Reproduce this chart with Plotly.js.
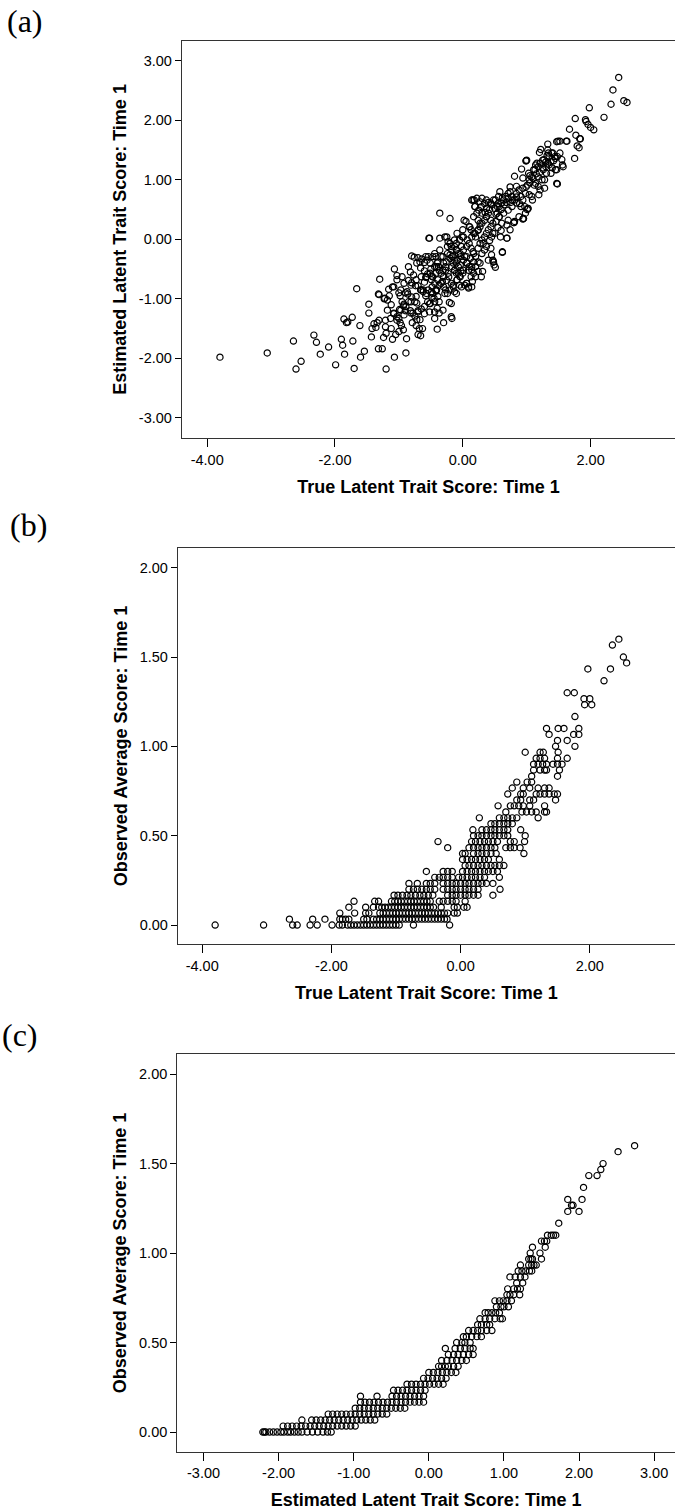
<!DOCTYPE html>
<html>
<head>
<meta charset="utf-8">
<script src="https://cdn.plot.ly/plotly-3.0.1.min.js"></script>
<style>html,body{margin:0;padding:0;background:#fff;}#chart{width:675px;height:1511px;}</style>
</head>
<body>
<div id="chart"></div>
<script>
// Panel (a): [true latent trait, estimated latent trait]
const panelA = [
[-3.80,-1.98],[-3.06,-1.91],[-2.65,-1.71],[-2.61,-2.18],[-2.53,-2.05],[-2.33,-1.61],[-2.29,-1.73],[-2.23,-1.93],[-2.10,-1.81],[-1.99,-2.11],[-1.90,-1.68],[-1.88,-1.78],[-1.85,-1.93],[-1.86,-1.34],[-1.82,-1.40],[-1.80,-1.39],[-1.73,-1.31],[-1.72,-1.71],[-1.70,-2.17],[-1.66,-0.83],[-1.61,-1.45],[-1.60,-1.98],[-1.54,-1.88],[-1.47,-1.09],[-1.47,-1.24],[-1.43,-1.64],[-1.42,-1.50],[-1.39,-1.42],[-1.36,-1.48],[-1.34,-1.40],[-1.31,-1.36],[-1.31,-0.93],[-1.30,-0.67],[-1.32,-1.84],[-1.26,-1.84],[-1.24,-1.65],[-1.21,-1.36],[-1.21,-1.47],[-1.20,-1.58],[-1.20,-2.18],[-1.23,-1.00],[-1.18,-1.02],[-1.07,-1.98],[-1.07,-0.50],[-1.03,-0.61],
[-1.32,-0.92],[-1.22,-0.99],[-1.16,-0.84],[-1.08,-0.80],[-1.03,-0.68],[-0.95,-0.63],[-0.92,-0.74],[-0.97,-0.85],[-0.87,-0.88],[-0.81,-0.77],[-0.73,-0.68],[-0.65,-0.63],[-0.57,-0.63],[-0.49,-0.68],[-0.44,-0.74],[-0.39,-0.68],[-0.34,-0.74],[-0.42,-0.85],[-0.49,-0.88],[-0.57,-0.91],[-0.65,-0.85],[-0.73,-0.96],[-0.81,-1.05],[-0.89,-1.13],[-0.97,-1.19],[-1.08,-1.24],[-1.18,-1.19],[-1.13,-1.33],[-1.03,-1.30],[-0.92,-1.27],[-0.81,-1.24],[-0.70,-1.22],[-0.60,-1.13],[-0.52,-1.08],[-0.44,-1.05],[-0.39,-0.96],[-0.28,-0.91],[-0.20,-0.85],[-0.15,-0.77],[-0.09,-0.68],[-0.04,-0.63],[0.01,-0.52],[0.09,-0.52],[0.14,-0.46],[0.20,-0.63],[0.14,-0.80],[0.06,-0.74],[-0.18,-1.08],[-0.31,-1.19],[-0.44,-1.22],[-0.18,-1.30],[-0.37,-1.05],
[-0.28,0.04],[-0.23,-0.04],[-0.18,-0.12],[-0.10,-0.18],[-0.04,-0.24],[0.01,-0.18],[0.06,-0.12],[0.14,0.04],[0.19,0.10],[0.24,0.15],[0.24,0.32],[0.19,0.55],[0.14,0.66],[0.22,0.69],
[-0.31,-0.29],[-0.26,-0.38],[-0.20,-0.32],[-0.15,-0.40],[-0.09,-0.35],[-0.04,-0.43],[0.01,-0.35],[0.06,-0.40],[0.12,-0.32],[0.17,-0.38],[-0.31,-0.52],[-0.23,-0.57],[-0.13,-0.52],[-0.07,-0.57],[-0.41,-0.46],[-0.39,-0.38],
[-1.00,-0.90],[-0.98,-0.95],[-0.95,-1.05],[-0.93,-1.12],[-0.99,-1.18],[-1.00,-1.33],[-0.98,-1.40],[-0.96,-1.45],[-0.93,-1.52],[-0.88,-1.67],[-0.89,-1.91],[-0.80,-0.28],[-0.76,-0.30],[-0.70,-0.31],[-0.64,-0.33],[-0.58,-0.29],[-0.60,-0.39],[-0.67,-0.38],[-0.72,-0.40],[-0.85,-0.46],[-0.82,-0.55],[-0.77,-0.60],[-0.85,-0.69],[-0.80,-0.73],[-0.74,-0.78],[-0.70,-0.78],[-0.60,-0.72],[-0.58,-0.64],[-0.55,-0.58],[-0.60,-0.53],[-0.66,-0.48],[-0.50,-0.50],[-0.49,-0.62],[-0.48,-0.80],[-0.48,-0.98],[-0.90,-0.90],[-0.86,-0.92],[-0.80,-0.97],[-0.75,-1.05],[-0.72,-1.07],[-0.85,-1.05],[-0.92,-1.09],[-0.90,-1.20],[-0.82,-1.20],[-0.78,-1.24],[-0.70,-1.20],[-0.65,-1.17],[-0.60,-1.25],[-0.75,-1.29],[-0.72,-1.35],[-0.67,-1.35],[-0.79,-1.40],[-0.73,-1.45],[-0.68,-1.50],[-0.63,-1.50],[-0.70,-1.60],[-0.66,-1.62],[-0.52,-1.22],[-0.55,-1.05],[-0.58,-0.95],[-0.62,-0.88],[-0.66,-0.85],[-0.54,-0.85],[-1.03,-1.36],[-1.08,-1.25],[-1.12,-1.10],[-1.15,-0.95],[-1.10,-0.80],[-1.12,-1.50],[-1.05,-1.60],[-1.10,-1.68],[-1.00,-1.55],
[-0.44,-0.24],[-0.42,-0.29],[-0.40,-0.40],[-0.38,-0.46],[-0.44,-0.46],[-0.37,-0.52],[-0.34,-0.57],[-0.30,-0.63],[-0.32,-0.71],[-0.30,-0.80],[-0.27,-0.85],[-0.24,-0.91],[-0.37,-0.77],[-0.42,-0.87],[-0.47,-0.91],[-0.45,-0.99],[-0.51,-1.08],[-0.40,-1.16],[-0.37,-1.24],[-0.44,-1.33],[-0.30,-1.40],[-0.40,-1.51],[-0.21,-1.06],[-0.17,-1.33],[-0.24,-0.24],[-0.20,-0.26],[-0.17,-0.29],[-0.13,-0.35],[-0.10,-0.40],[-0.07,-0.46],[-0.03,-0.53],[0.00,-0.57],[-0.17,-0.46],[-0.13,-0.52],[-0.10,-0.57],[-0.09,-0.68],[-0.05,-0.77],[-0.02,-0.80],[-0.10,-0.91],[-0.13,-0.88],[-0.18,-0.74],[-0.22,-0.63],[-0.27,-0.52],[-0.30,-0.40],[-0.34,-0.29],[-0.24,-0.12],[-0.20,-0.07],[-0.13,-0.12],[-0.10,-0.18],[-0.07,-0.24],[-0.03,-0.29],[-0.02,-0.12],[-0.05,-0.01],[-0.09,0.10],[-0.13,-0.01],[-0.17,-0.18],[0.00,0.16],[-0.01,0.04],[-0.20,0.35],[-0.36,0.44],[-0.36,0.02],[-0.53,0.02],[-0.27,-0.46],[0.03,-0.77],[0.09,-0.80],[0.13,-0.63],[0.15,-0.71],[-0.47,-0.29],[-0.51,-0.40],[-0.54,-0.29],[-0.56,-0.35],[-0.42,-0.57],[-0.47,-0.63],
[0.02,0.32],[0.05,0.30],[0.10,0.21],[0.13,0.16],[0.17,0.10],[0.20,0.04],[0.24,0.16],[0.27,0.21],[0.30,0.27],[0.34,0.32],[0.37,0.38],[0.40,0.44],[0.44,0.32],[0.47,0.27],[0.17,0.38],[0.22,0.44],[0.25,0.49],[0.29,0.55],[0.18,0.66],[0.19,0.55],[0.27,0.63],[0.34,0.60],[0.37,0.52],[0.07,-0.01],[0.10,-0.07],[0.13,-0.15],[0.17,-0.24],[0.20,-0.29],[0.24,-0.15],[0.27,-0.07],[0.30,-0.01],[0.34,0.04],[0.37,0.10],[0.40,0.16],[0.44,0.21],[0.47,0.10],[0.30,-0.24],[0.34,-0.18],[0.37,-0.12],[0.40,-0.35],[0.44,-0.15],[0.48,-0.38],[0.51,-0.47],[0.27,-0.40],[0.20,-0.46],[0.07,-0.40],[0.10,-0.46],[0.03,-0.29],[0.17,-0.57],[0.24,-0.54],[0.29,-0.63],
[0.16,0.66],[0.30,0.69],[0.58,0.80],[0.74,0.88],[0.81,1.06],[0.92,1.18],[1.00,1.33],[1.13,1.17],[1.16,1.28],[1.20,1.46],[1.22,1.51],[1.33,1.60],[1.33,1.50],[1.47,1.64],[1.52,1.65],[1.63,1.65],[1.67,1.85],[1.76,2.03],[1.77,1.75],[1.83,1.69],[1.79,1.57],[1.82,1.54],[1.75,1.36],[1.48,0.93],[1.57,1.22],[1.55,1.34],[1.44,1.39],[1.39,1.45],[1.32,1.41],[1.27,1.34],[1.47,1.17],[1.56,1.25],[1.19,0.75],[1.08,0.72],[0.99,0.88],[1.12,0.91],[1.05,1.07],[0.89,0.60],[0.97,0.55],[1.01,0.50],[0.94,0.34],[0.81,0.30],[0.69,0.24],[0.84,0.71],[0.71,0.69],[0.62,-0.21],[0.49,-0.43],[0.47,-0.35],[0.45,-0.26],[0.59,0.04],[0.45,0.04],[0.69,0.02],[0.57,0.38],[0.31,-0.54],[0.24,-0.38],[0.37,0.38],[0.27,0.27],[0.01,0.04],[0.11,0.21],[-0.10,-0.07],[-0.25,0.04],[-0.52,0.02],[-0.36,-0.18],[-0.15,-0.29],[0.06,-0.29],[0.16,-0.21],[0.32,-0.07],[0.14,-0.51],[-0.05,-0.62],[0.06,-0.74],[-0.15,-0.80],[-0.25,-0.69],[-0.51,-0.57],[-0.62,-0.85],[-0.41,-0.85],[0.09,-0.82],
[1.98,2.21],[1.93,1.98],[1.96,1.93],[2.00,1.88],[2.05,1.84],[2.21,2.05],[2.32,2.27],[2.35,2.51],[2.44,2.72],[2.52,2.33],[2.57,2.30],[1.62,1.65],[1.49,1.65],[1.84,1.69],[1.92,2.01],[0.48,-0.38],[0.62,-0.22],[0.69,0.02],[0.80,0.28],[0.95,0.35],[1.02,0.52],[0.99,1.32],[1.47,0.94],
[0.54,0.44],[0.57,0.55],[0.61,0.61],[0.64,0.66],[0.67,0.72],[0.71,0.77],[0.74,0.80],[0.77,0.72],[0.81,0.66],[0.84,0.77],[0.88,0.83],[0.91,0.72],[0.94,0.66],[0.98,0.77],[0.57,0.38],[0.64,0.44],[0.71,0.49],[0.77,0.55],[0.84,0.61],[0.91,0.55],[0.51,0.66],[0.54,0.55],[0.44,0.61],[0.37,0.66],[0.30,0.44],[0.61,0.27],[0.71,0.32],[0.74,0.16],[0.80,0.28],[0.95,0.35],[1.02,0.52],[0.98,0.44],[0.88,0.38],[0.94,0.86],[1.01,0.91],[1.04,1.00],[1.08,1.05],[1.03,1.11],[0.94,1.03],[0.84,0.89],[0.99,1.32],[1.11,1.17],[1.14,1.25],[1.18,1.22],[1.21,1.28],[1.25,1.33],[1.26,1.17],[1.30,1.22],[1.33,1.28],[1.35,1.39],[1.38,1.31],[1.41,1.45],[1.45,1.36],[1.48,1.39],[1.52,1.45],[1.14,0.94],[1.18,0.89],[1.21,0.83],[1.28,1.00],[1.31,1.11],[1.38,1.11],[1.45,1.17],[1.28,0.86],[1.04,0.75],[1.09,0.66],
[0.35,0.45],[0.42,0.50],[0.45,0.58],[0.50,0.52],[0.52,0.42],[0.55,0.60],[0.48,0.66],[0.40,0.62],[0.60,0.50],[0.65,0.58],[0.68,0.62],[0.75,0.62],[0.78,0.66],[0.62,0.70],[0.56,0.72],[0.52,0.30],[0.55,0.20],[0.60,0.15],[0.50,0.10],[0.42,-0.02],[1.05,0.95],[1.10,1.02],[1.15,1.10],[1.20,1.12],[1.25,1.20],[1.30,1.30],[1.35,1.25],[1.40,1.20],[1.18,1.05],[1.24,1.00],[1.34,1.45],[1.42,1.32]
];

// Panel (b): rows of [observed average score, true latent trait scores]
const rowsB = [
[0, [-3.80,-3.05,-2.60,-2.53,-2.33,-2.22,-1.99,-1.88,-1.83,-1.75,-1.70,-1.65,-1.60,-1.55,-1.50,-1.45,-1.40,-1.35,-1.30,-1.25,-1.20,-1.15,-1.10,-1.05,-1.00,-0.95,-0.73,-0.17]],
[0.033, [-2.65,-2.29,-2.10,-1.87,-1.83,-1.78,-1.73,-1.50,-1.45,-1.35,-1.30,-1.25,-1.20,-1.15,-1.10,-1.05,-1.00,-0.95,-0.90,-0.85,-0.80,-0.75,-0.70,-0.65,-0.60,-0.55,-0.50,-0.45,-0.40,-0.35,-0.30,-0.25,-0.21]],
[0.067, [-1.87,-1.64,-1.47,-1.42,-1.25,-1.20,-1.15,-1.10,-1.05,-1.00,-0.95,-0.90,-0.85,-0.80,-0.75,-0.70,-0.65,-0.60,-0.55,-0.50,-0.45,-0.40,-0.35,-0.30,-0.25,-0.20,-0.10,-0.05]],
[0.1, [-1.73,-1.47,-1.35,-1.27,-1.22,-1.17,-1.12,-1.07,-1.02,-0.97,-0.92,-0.87,-0.82,-0.77,-0.72,-0.67,-0.62,-0.57,-0.52,-0.47,-0.42,-0.30,-0.10,-0.05,0.05,0.10]],
[0.133, [-1.65,-1.33,-1.27,-1.07,-1.02,-0.97,-0.92,-0.87,-0.82,-0.77,-0.72,-0.67,-0.62,-0.57,-0.52,-0.47,-0.33,-0.27,-0.20,-0.13,-0.07,0.07]],
[0.167, [-1.03,-0.97,-0.90,-0.83,-0.77,-0.70,-0.63,-0.57,-0.50,-0.43,-0.20,-0.13,-0.07,0.00,0.07,0.13,0.20,0.27,0.50]],
[0.2, [-0.80,-0.73,-0.67,-0.60,-0.53,-0.47,-0.40,-0.27,-0.20,-0.13,-0.07,0.00,0.07,0.13,0.20,0.27,0.61]],
[0.233, [-0.80,-0.67,-0.53,-0.47,-0.40,-0.27,-0.20,-0.13,-0.07,0.00,0.07,0.13,0.20,0.27,0.33,0.40,0.50]],
[0.267, [-0.40,-0.33,-0.27,-0.20,-0.13,-0.03,0.03,0.10,0.17,0.23,0.30,0.37,0.60]],
[0.3, [-0.53,-0.27,-0.20,-0.13,0.03,0.10,0.17,0.23,0.30,0.37,0.43,0.50,0.57]],
[0.333, [0.07,0.13,0.20,0.27,0.33,0.40,0.47,0.53,0.60,0.67]],
[0.367, [0.03,0.10,0.17,0.23,0.30,0.37,0.43,0.60]],
[0.4, [0.03,0.07,0.20,0.27,0.33,0.40,0.47,0.55,0.98]],
[0.433, [-0.20,0.13,0.20,0.27,0.33,0.40,0.47,0.53,0.70,0.77,0.83,0.92]],
[0.467, [-0.35,0.17,0.23,0.30,0.37,0.43,0.50,0.57,0.77,0.83,0.99]],
[0.5, [0.20,0.27,0.33,0.40,0.47,0.53,0.60,0.67,0.73,1.00]],
[0.533, [0.19,0.33,0.40,0.47,0.53,0.60,0.67,0.73,0.93]],
[0.567, [0.47,0.53,0.60,0.67,0.73,0.80]],
[0.6, [0.29,0.60,0.67,0.73,0.80,0.87,1.20]],
[0.633, [0.70,0.95,1.02,1.10,1.17,1.30,1.33]],
[0.667, [0.58,0.77,0.83,0.90,0.97,1.07,1.30]],
[0.7, [0.87,0.93,1.07,1.13,1.47]],
[0.733, [0.73,0.93,0.97,1.17,1.23,1.30,1.37,1.45,1.50]],
[0.767, [0.80,0.97,1.07,1.20,1.30,1.37]],
[0.8, [0.87,1.03,1.10]],
[0.833, [1.10,1.50]],
[0.867, [1.13,1.23,1.30,1.33,1.53]],
[0.9, [1.13,1.20,1.27,1.33,1.43,1.50,1.57]],
[0.933, [1.17,1.23,1.30,1.50,1.65]],
[0.967, [1.00,1.23,1.28,1.51]],
[1.0, [1.47,1.77]],
[1.033, [1.50,1.65]],
[1.067, [1.37,1.75,1.83]],
[1.1, [1.33,1.51,1.60,1.83]],
[1.167, [1.77]],
[1.233, [1.92,2.03]],
[1.267, [1.91,2.00]],
[1.3, [1.65,1.76]],
[1.367, [2.22]],
[1.433, [1.97,2.32]],
[1.467, [2.57]],
[1.5, [2.52]],
[1.567, [2.35]],
[1.6, [2.45]]
];

// Panel (c): rows of [observed average score, estimated latent trait scores]
const rowsC = [
[0, [-2.21,-2.19,-2.17,-2.12,-2.07,-2.02,-1.97,-1.93,-1.88,-1.84,-1.79,-1.74,-1.69,-1.62,-1.55,-1.48,-1.41,-1.35,-1.30]],
[0.033, [-1.94,-1.88,-1.82,-1.76,-1.70,-1.64,-1.58,-1.52,-1.46,-1.40,-1.34,-1.28,-1.22,-1.16,-1.10,-1.04,-0.98]],
[0.067, [-1.69,-1.56,-1.50,-1.44,-1.38,-1.32,-1.26,-1.20,-1.14,-1.08,-1.02,-0.96,-0.90,-0.84,-0.78,-0.72]],
[0.1, [-1.34,-1.28,-1.22,-1.16,-1.10,-1.04,-0.98,-0.92,-0.86,-0.80,-0.74,-0.68,-0.62,-0.56]],
[0.133, [-0.98,-0.92,-0.86,-0.80,-0.74,-0.68,-0.62,-0.56,-0.50,-0.44,-0.38,-0.32]],
[0.167, [-0.91,-0.85,-0.79,-0.73,-0.67,-0.61,-0.55,-0.49,-0.43,-0.37,-0.31,-0.25,-0.19,-0.13,-0.07]],
[0.2, [-0.91,-0.69,-0.49,-0.43,-0.37,-0.31,-0.25,-0.19,-0.13,-0.07]],
[0.233, [-0.47,-0.41,-0.35,-0.29,-0.23,-0.17,-0.11,-0.05]],
[0.267, [-0.29,-0.23,-0.17,-0.11,-0.05,0.01,0.07,0.13,0.19]],
[0.3, [-0.07,-0.01,0.05,0.11,0.17,0.23]],
[0.333, [0.00,0.06,0.12,0.18,0.24,0.30,0.36]],
[0.367, [0.13,0.17,0.22,0.26,0.33,0.39]],
[0.4, [0.17,0.24,0.31,0.37,0.44,0.50]],
[0.433, [0.26,0.33,0.39,0.46,0.53,0.59]],
[0.467, [0.22,0.35,0.42,0.48,0.55,0.59]],
[0.5, [0.37,0.44,0.48,0.55]],
[0.533, [0.46,0.50,0.57,0.64,0.70]],
[0.567, [0.53,0.59,0.65,0.70,0.77,0.84]],
[0.6, [0.65,0.70,0.77,0.81]],
[0.633, [0.68,0.75,0.81,0.88,0.95,0.98]],
[0.667, [0.75,0.79,0.84,0.89,0.94]],
[0.7, [0.90,0.96,1.00,1.06]],
[0.733, [0.88,0.94,0.99,1.04,1.10]],
[0.767, [1.04,1.08,1.13,1.21]],
[0.8, [1.05,1.13,1.18,1.22]],
[0.833, [1.17,1.25]],
[0.867, [1.08,1.15,1.22,1.28]],
[0.9, [1.19,1.24,1.29,1.34,1.37]],
[0.933, [1.22,1.33,1.37,1.40,1.43]],
[0.967, [1.33,1.36,1.38,1.50]],
[1.0, [1.35,1.48]],
[1.033, [1.38,1.55]],
[1.067, [1.50,1.54,1.57]],
[1.1, [1.58,1.63,1.66,1.69]],
[1.167, [1.73]],
[1.233, [1.85,2.00]],
[1.267, [1.90,1.92]],
[1.3, [1.85,2.04]],
[1.367, [2.06]],
[1.433, [2.13,2.24]],
[1.467, [2.29]],
[1.5, [2.32]],
[1.567, [2.52]],
[1.6, [2.74]]
];

// Tick values and labels
const tickA_x = [-4, -2, 0, 2];
const tickA_xText = ["-4.00", "-2.00", "0.00", "2.00"];
const tickA_y = [-3, -2, -1, 0, 1, 2, 3];
const tickA_yText = ["-3.00", "-2.00", "-1.00", "0.00", "1.00", "2.00", "3.00"];
const tickB_x = [-4, -2, 0, 2];
const tickB_xText = ["-4.00", "-2.00", "0.00", "2.00"];
const tickObs = [0, 0.5, 1, 1.5, 2];
const tickObsText = ["0.00", "0.50", "1.00", "1.50", "2.00"];
const tickC_x = [-3, -2, -1, 0, 1, 2, 3];
const tickC_xText = ["-3.00", "-2.00", "-1.00", "0.00", "1.00", "2.00", "3.00"];

const titlesX = ["True Latent Trait Score: Time 1", "True Latent Trait Score: Time 1", "Estimated Latent Trait Score: Time 1"];
const titlesY = ["Estimated Latent Trait Score: Time 1", "Observed Average Score: Time 1", "Observed Average Score: Time 1"];
const panelLabels = ["(a)", "(b)", "(c)"];

function flatten(rows) {
  const xs = [], ys = [];
  rows.forEach(r => r[1].forEach(x => { xs.push(x); ys.push(r[0]); }));
  return {xs, ys};
}
const B = flatten(rowsB), C = flatten(rowsC);

const marker = {symbol: 'circle-open', size: 6.2, color: '#000', line: {width: 1.2, color: '#000'}};
const traces = [
  {type: 'scatter', mode: 'markers', x: panelA.map(p => p[0]), y: panelA.map(p => p[1]), xaxis: 'x', yaxis: 'y', marker, hoverinfo: 'skip'},
  {type: 'scatter', mode: 'markers', x: B.xs, y: B.ys, xaxis: 'x2', yaxis: 'y2', marker, hoverinfo: 'skip'},
  {type: 'scatter', mode: 'markers', x: C.xs, y: C.ys, xaxis: 'x3', yaxis: 'y3', marker, hoverinfo: 'skip'}
];

const tickFont = {family: 'Liberation Sans, Arial, sans-serif', size: 14.5, color: '#000'};
const titleFont = {family: 'Liberation Sans, Arial, sans-serif', size: 18, color: '#000', weight: 700};
function xax(domain, anchor, range, tv, tt, title) {
  return {domain, anchor, range, tickmode: 'array', tickvals: tv, ticktext: tt, ticks: 'outside', ticklen: 8, tickwidth: 1,
    tickcolor: '#000', showline: true, linecolor: '#333', linewidth: 1.2, mirror: true, showgrid: false, zeroline: false,
    tickfont: tickFont, title: {text: title, font: titleFont, standoff: 13}, automargin: false};
}
function yax(domain, anchor, range, tv, tt, title) {
  return {domain, anchor, range, tickmode: 'array', tickvals: tv, ticktext: tt, ticks: 'outside', ticklen: 6, tickwidth: 1,
    tickcolor: '#000', showline: true, linecolor: '#333', linewidth: 1.2, mirror: false, showgrid: false, zeroline: false,
    tickfont: tickFont, title: {text: title, font: titleFont, standoff: 7}, automargin: false};
}

const labelFont = {family: 'Liberation Serif, Times New Roman, serif', size: 32, color: '#000'};
const layout = {
  width: 675, height: 1511, margin: {l: 0, r: 0, t: 0, b: 0},
  paper_bgcolor: '#fff', plot_bgcolor: '#fff', showlegend: false,
  xaxis: xax([0.26963, 1], 'y', [-4.394, 3.321], tickA_x, tickA_xText, titlesX[0]),
  yaxis: yax([0.71012, 0.97287], 'x', [-3.339, 3.333], tickA_y, tickA_yText, titlesY[0]),
  xaxis2: xax([0.26370, 1], 'y2', [-4.375, 3.319], tickB_x, tickB_xText, titlesX[1]),
  yaxis2: yax([0.37525, 0.63733], 'x2', [-0.106, 2.110], tickObs, tickObsText, titlesY[1]),
  xaxis3: xax([0.26281, 1], 'y3', [-3.348, 3.278], tickC_x, tickC_xText, titlesX[2]),
  yaxis3: yax([0.03925, 0.30225], 'x3', [-0.110, 2.111], tickObs, tickObsText, titlesY[2]),
  annotations: [
    {text: panelLabels[0], xref: 'paper', yref: 'paper', x: 0.037, y: 0.9861, xanchor: 'center', yanchor: 'middle', showarrow: false, font: labelFont},
    {text: panelLabels[1], xref: 'paper', yref: 'paper', x: 0.0415, y: 0.6525, xanchor: 'center', yanchor: 'middle', showarrow: false, font: labelFont},
    {text: panelLabels[2], xref: 'paper', yref: 'paper', x: 0.0, y: 0.315, xanchor: 'left', yanchor: 'middle', showarrow: false, font: labelFont}
  ]
};

Plotly.newPlot('chart', traces, layout, {displayModeBar: false, staticPlot: true});
</script>
</body>
</html>
